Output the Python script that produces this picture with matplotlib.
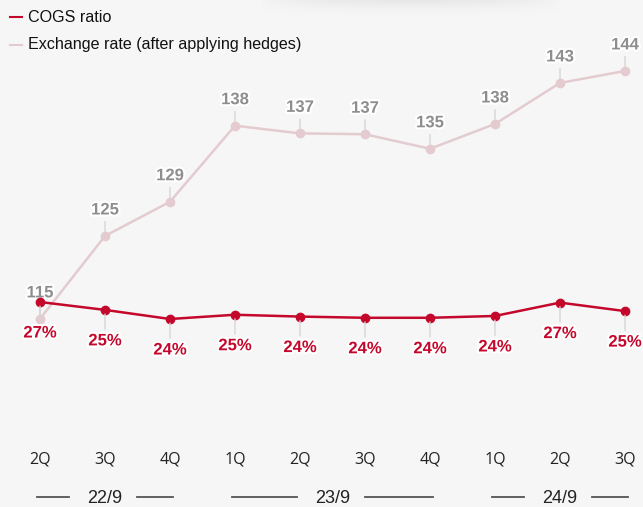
import numpy as np
import matplotlib.pyplot as plt
import matplotlib.patheffects as pe

quarters = ['2Q', '3Q', '4Q', '1Q', '2Q', '3Q', '4Q', '1Q', '2Q', '3Q']
fx_rate = [115.0, 124.7, 128.7, 137.6, 136.7, 136.6, 134.9, 137.8, 142.6, 144.0]
cogs_ratio = [26.7, 25.4, 23.9, 24.6, 24.3, 24.1, 24.1, 24.4, 26.6, 25.2]
fiscal_years = ['22/9', '23/9', '24/9']
year_spans = [(0, 2), (3, 6), (7, 9)]

RED = '#c4082c'
PINK = '#e3cbd0'
GREY_TXT = '#8e8e8e'
BG = '#f6f6f6'

plt.rcParams['font.family'] = ['Liberation Sans', 'DejaVu Sans']

fig = plt.figure(figsize=(6.43, 5.07), dpi=100, facecolor=BG)

# faint shadow band along the top edge
shade = fig.add_axes([260 / 643, 1 - 16 / 507, 300 / 643, 16 / 507])
gx = np.sin(np.linspace(0, np.pi, 200)) ** 0.6
gy = np.linspace(1, 0, 20) ** 1.5
rgba = np.zeros((20, 200, 4))
rgba[..., :3] = 0.80
rgba[..., 3] = np.outer(gy, gx) * 0.35
shade.imshow(rgba, aspect='auto')
shade.axis('off')

ax = fig.add_axes([0, 0, 1, 1])
ax.patch.set_alpha(0)
ax.set_xlim(-0.615, 9.277)
ax.set_ylim(93.0, 152.3)
ax.axis('off')

# cogs ratio on its own scale, same x
ax2 = ax.twinx()
ax2.set_ylim(-7.07, 76.45)
ax2.axis('off')

x = list(range(len(quarters)))
halo = [pe.withStroke(linewidth=3, foreground='white')]

ax.plot(x, fx_rate, color=PINK, lw=1.8, marker='o', ms=6, zorder=2)
for xi, v in zip(x, fx_rate):
    ax.annotate('%.0f' % v, (xi, v), xytext=(0, 26), textcoords='offset pixels',
                ha='center', va='center', fontsize=12, fontweight='bold',
                color=GREY_TXT, path_effects=halo,
                arrowprops=dict(arrowstyle='-', color='#d6d6d6', lw=1,
                                shrinkA=1, shrinkB=3))

ax2.plot(x, cogs_ratio, color=RED, lw=1.8, marker='o', ms=6, zorder=3)
for xi, v in zip(x, cogs_ratio):
    ax2.annotate('%.0f%%' % v, (xi, v), xytext=(0, -31), textcoords='offset pixels',
                 ha='center', va='center', fontsize=12, fontweight='bold',
                 color=RED, path_effects=halo,
                 arrowprops=dict(arrowstyle='-', color='#d6d6d6', lw=1,
                                 shrinkA=1, shrinkB=3))

# quarter labels
for xi, q in zip(x, quarters):
    ax.text(xi, 0.093, q, transform=ax.get_xaxis_transform(), ha='center',
            va='center', fontsize=11.5, color='#222222',
            family=['Open Sans', 'DejaVu Sans'])

# fiscal year labels with side rules
yb = 0.019
for label, (a, b) in zip(fiscal_years, year_spans):
    c = (a + b) / 2
    ax.text(c, yb - 0.003, label, transform=ax.get_xaxis_transform(), ha='center',
            va='center', fontsize=13, color='#222222',
            family=['Liberation Sans Narrow', 'Liberation Sans'])
    ax.plot([a - 0.05, c - 0.55], [yb, yb], transform=ax.get_xaxis_transform(),
            color='#555555', lw=1.3, clip_on=False)
    ax.plot([c + 0.5, b + 0.05], [yb, yb], transform=ax.get_xaxis_transform(),
            color='#555555', lw=1.3, clip_on=False)

# legend
fig.lines.append(plt.Line2D([10 / 643, 22 / 643], [1 - 17 / 507] * 2,
                            transform=fig.transFigure, color=RED, lw=1.5))
fig.lines.append(plt.Line2D([10 / 643, 22 / 643], [1 - 45 / 507] * 2,
                            transform=fig.transFigure, color=PINK, lw=1.5))
fig.text(28 / 643, 1 - 17 / 507, 'COGS ratio', ha='left', va='center',
         fontsize=11.6, color='#111111')
fig.text(28 / 643, 1 - 45 / 507, 'Exchange rate (after applying hedges)',
         ha='left', va='center', fontsize=11.6, color='#111111')

fig.savefig('out.png', dpi=100, facecolor=BG)
